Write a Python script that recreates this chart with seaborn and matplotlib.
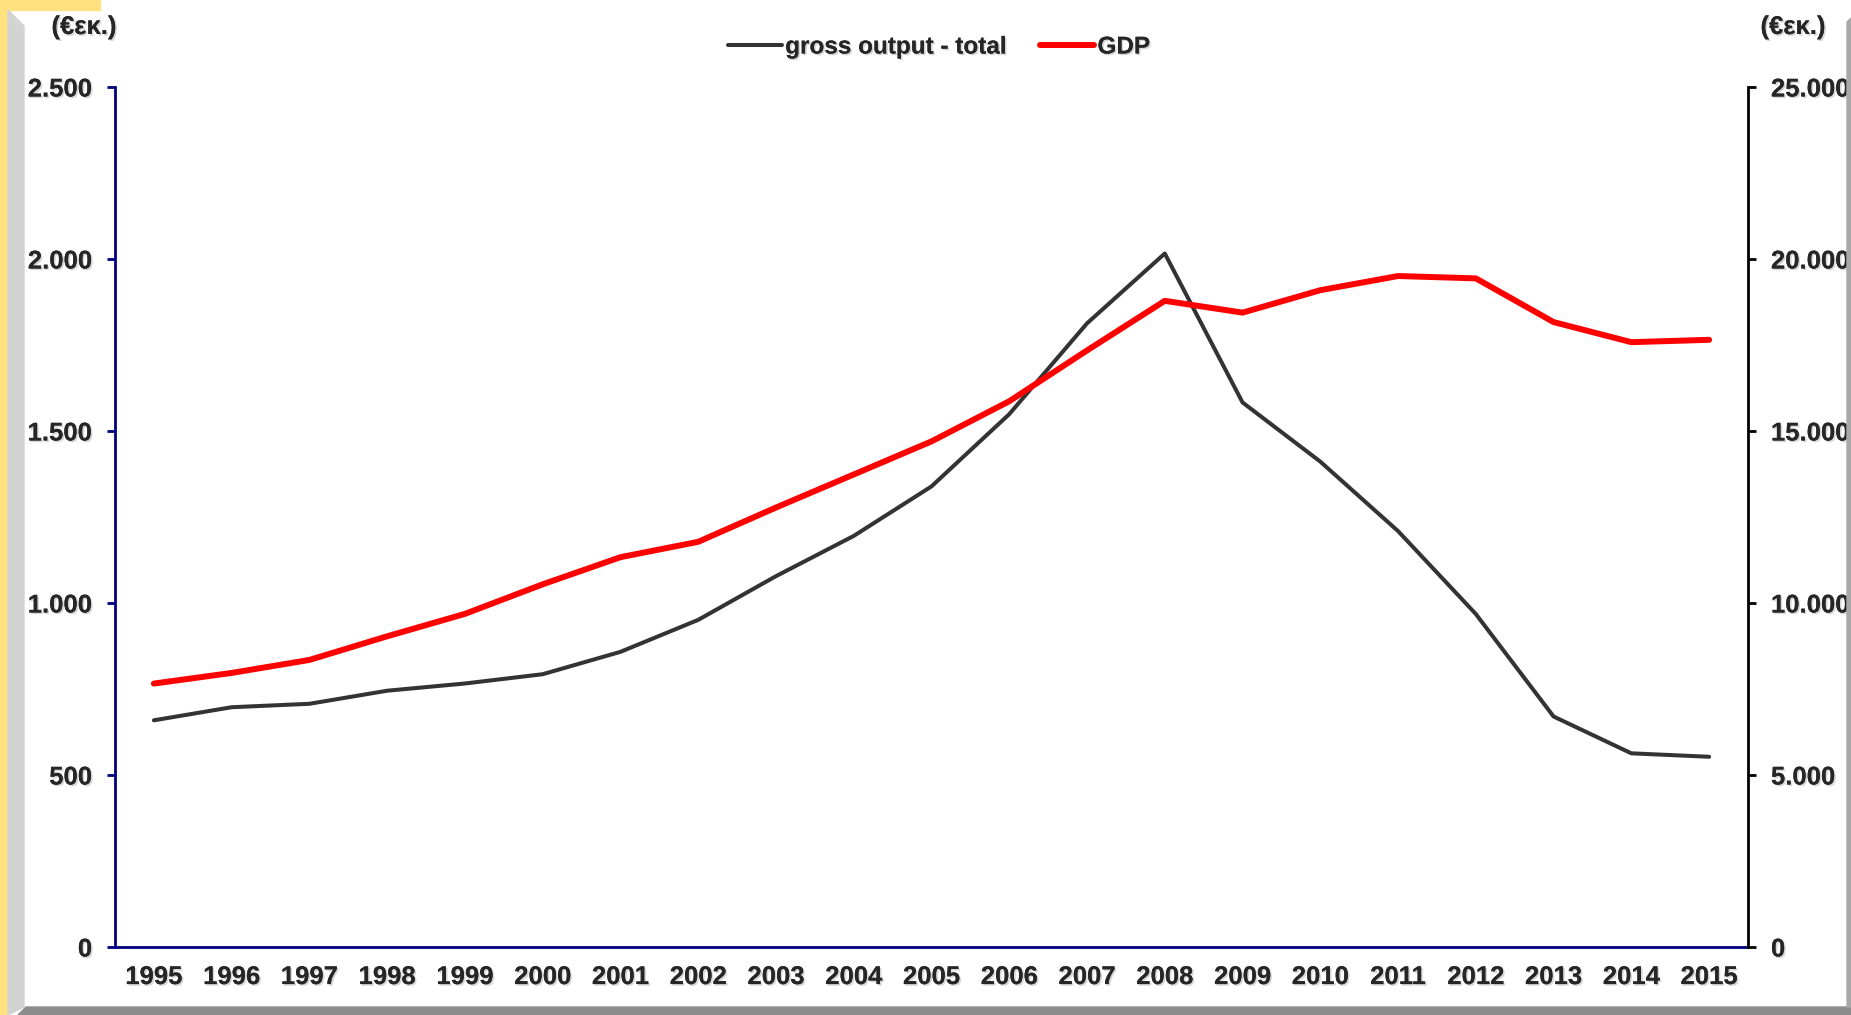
import matplotlib
matplotlib.use("Agg")
import matplotlib.pyplot as plt
import matplotlib.patheffects as pe
from matplotlib.patches import Polygon, Rectangle
from matplotlib.ticker import FuncFormatter, FixedLocator
from matplotlib.lines import Line2D
import seaborn as sns
import pandas as pd

years = list(range(1995, 2016))
gross_output = [659, 697, 707, 745, 766, 793, 858, 951, 1078, 1195, 1339, 1549,
                1813, 2016, 1583, 1411, 1209, 968, 670, 563, 553]
gdp = [7658, 7967, 8345, 9032, 9684, 10543, 11332, 11779, 12775, 13736, 14698,
       15865, 17342, 18784, 18441, 19093, 19505, 19437, 18166, 17582, 17651]
left_ticks = [0, 500, 1000, 1500, 2000, 2500]
right_ticks = [0, 5000, 10000, 15000, 20000, 25000]
unit_label = "(€εκ.)"
label_gross = "gross output - total"
label_gdp = "GDP"

df = pd.DataFrame({"year": years, "gross": gross_output, "gdp": gdp})

sns.set_style("white")
plt.rcParams["font.family"] = ["Liberation Sans", "DejaVu Sans"]
plt.rcParams["font.weight"] = "bold"

W, H = 1851, 1015
fig = plt.figure(figsize=(W / 100, H / 100), dpi=100)
fig.patch.set_facecolor("white")

def fx(x): return x / W
def fy(y): return 1 - y / H
fig.patches.append(Rectangle((0, 0), fx(8), 1, transform=fig.transFigure, color="#FFE17F", zorder=0))
fig.patches.append(Rectangle((0, fy(10)), fx(100), 10 / H, transform=fig.transFigure, color="#FFE17F", zorder=0))
fig.patches.append(Polygon([(fx(8), fy(10)), (fx(24), fy(26)), (fx(24), fy(1007)), (fx(8), fy(1015))],
                           closed=True, transform=fig.transFigure, color="#D3D3D3", zorder=0))
fig.patches.append(Polygon([(fx(18), fy(1015)), (fx(26), fy(1007)), (fx(1851), fy(1007)), (fx(1851), fy(1015))],
                           closed=True, transform=fig.transFigure, color="#8C8C8C", zorder=0))
fig.patches.append(Polygon([(fx(1847), fy(22)), (fx(1851), fy(18)), (fx(1851), fy(1007)), (fx(1847), fy(1007))],
                           closed=True, transform=fig.transFigure, color="#A8A8A8", zorder=0))

ax = fig.add_axes([fx(115), fy(947), (1748 - 115) / W, (947 - 87) / H])
ax.set_facecolor("none")
ax2 = ax.twinx()

shadow = [pe.withSimplePatchShadow(offset=(1.2, -1.2), shadow_rgbFace="#b0b0b0", alpha=0.5), pe.Normal()]

sns.lineplot(data=df, x="year", y="gross", ax=ax, color="#333333", linewidth=2.9, legend=False)
sns.lineplot(data=df, x="year", y="gdp", ax=ax2, color="#FF0000", linewidth=4.3, legend=False)

ax.set_xlim(1994.5, 2015.5)
ax.set_ylim(0, 2500)
ax2.set_ylim(0, 25000)
ax.set_xlabel("")
ax.set_ylabel("")
ax2.set_ylabel("")

fmt = FuncFormatter(lambda v, p: f"{int(v):,}".replace(",", "."))
ax.yaxis.set_major_locator(FixedLocator(left_ticks))
ax.yaxis.set_major_formatter(fmt)
ax2.yaxis.set_major_locator(FixedLocator(right_ticks))
ax2.yaxis.set_major_formatter(fmt)

ax.set_xticks(years)
ax.set_xticklabels([str(y) for y in years])
ax.set_xticks([y - 0.5 for y in years] + [2015.5], minor=True)

navy = "#000080"
for s in ["top", "right"]:
    ax.spines[s].set_visible(False)
ax.spines["left"].set_color(navy)
ax.spines["bottom"].set_color(navy)
ax.spines["left"].set_linewidth(2)
ax.spines["bottom"].set_linewidth(2)
for s in ["top", "left", "bottom"]:
    ax2.spines[s].set_visible(False)
ax2.spines["right"].set_color("black")
ax2.spines["right"].set_linewidth(2)

fs = 18.5
ax.tick_params(axis="x", which="major", length=0, pad=13, labelsize=fs)
ax.tick_params(axis="x", which="minor", length=6, width=2, color=navy, direction="out")
ax.tick_params(axis="y", length=6, width=2, color=navy, direction="out", pad=10.5, labelsize=fs)
ax2.tick_params(axis="y", length=6, width=2, color="black", direction="out", pad=10.5, labelsize=fs)

for lab in ax.get_xticklabels() + ax.get_yticklabels() + ax2.get_yticklabels():
    lab.set_fontweight("bold")
    lab.set_path_effects(shadow)

fig.text(fx(84), fy(27), unit_label, ha="center", va="center", fontsize=fs, fontweight="bold", path_effects=shadow)
fig.text(fx(1793), fy(27), unit_label, ha="center", va="center", fontsize=fs, fontweight="bold", path_effects=shadow)

handles = [Line2D([], [], color="#333333", linewidth=2.9), Line2D([], [], color="#FF0000", linewidth=4.3)]
leg = fig.legend(handles, [label_gross, label_gdp], loc="center", bbox_to_anchor=(fx(939), fy(47)),
                 ncol=2, frameon=False, handlelength=2.2, handletextpad=0.15, columnspacing=1.4,
                 prop={"weight": "bold", "size": 17.5})
for t in leg.get_texts():
    t.set_path_effects(shadow)

fig.savefig("out.png", dpi=100, facecolor=fig.get_facecolor())
